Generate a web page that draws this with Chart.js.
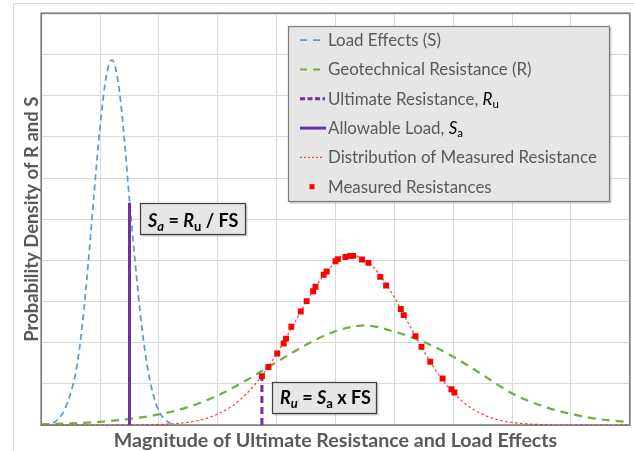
<!DOCTYPE html>
<html>
<head>
<meta charset="utf-8">
<script src="https://cdn.jsdelivr.net/npm/chart.js@4.4.1/dist/chart.umd.min.js"></script>
<style>
  html, body { margin:0; padding:0; background:#fff; }
  #wrap { width:634px; height:451px; position:relative; }
</style>
</head>
<body>
<div id="wrap"><canvas id="chart"></canvas></div>
<script>
// ── DATA ──────────────────────────────────────────────────
// load effects (S)
const loadX = [0.2,0.3,0.4,0.5,0.6,0.7,0.8,0.9,1.0,1.1,1.2,1.3,1.4,1.5,1.6,1.7,1.8,1.9,2.0,2.1,2.2];
const loadY = [0.05,0.16,0.38,0.78,1.38,2.45,3.95,5.65,7.25,8.42,8.87,8.40,7.15,5.45,3.90,2.50,1.45,0.76,0.34,0.14,0.04];

// geotechnical resistance (R)
const resX = [0,0.5,1,1.5,2,2.5,3,3.5,4,4.5,5,5.5,6,6.5,7,7.5,8,8.5,9,9.5,10];
const resY = [0.02,0.04,0.08,0.15,0.26,0.44,0.72,1.10,1.53,1.95,2.28,2.42,2.27,2.02,1.66,1.22,0.77,0.47,0.27,0.14,0.07];

// distribution of measured resistance
const fitX = [0,0.5,1,1.5,2,2.5,2.75,3,3.25,3.5,3.75,4,4.25,4.5,4.75,5,5.25,5.5,5.75,6,6.25,6.5,6.75,7,7.25,7.5,7.75,8,8.5,9,9.5,10];
const fitY = [0,0,0,0.002,0.015,0.07,0.14,0.27,0.47,0.78,1.20,1.73,2.35,2.98,3.54,3.94,4.11,4.02,3.65,3.10,2.44,1.80,1.23,0.79,0.47,0.26,0.13,0.065,0.012,0,0,0];

// measured resistances (points)
const measX = [3.75,3.86,4.01,4.12,4.16,4.25,4.41,4.51,4.62,4.66,4.80,4.85,5.00,5.04,5.17,5.25,5.30,5.45,5.56,5.76,5.86,6.11,6.16,6.36,6.46,6.61,6.82,6.97,7.02];
const measY = [1.19,1.41,1.74,1.98,2.10,2.39,2.76,3.01,3.25,3.36,3.65,3.73,3.98,4.03,4.08,4.11,4.11,4.02,3.94,3.60,3.39,2.82,2.67,2.16,1.90,1.54,1.13,0.87,0.79];

// vertical markers: allowable load Sa, ultimate resistance Ru
const saX = [1.5, 1.5],   saY = [0, 5.4];
const ruX = [3.75, 3.75], ruY = [0, 1.3];

// ── STYLE ─────────────────────────────────────────────────
const BLUE = '#5b9bd5', GREEN = '#70ad47', PURPLE = '#7030a0', RED = '#ff0000';
const TXT = '#595959';
const FONT = 'Lato';

const pts = (xs, ys) => xs.map((x, i) => ({ x, y: ys[i] }));

// ── PLUGINS ───────────────────────────────────────────────
const framePlugin = {
  id: 'frame',
  beforeDraw(chart) {
    const c = chart.ctx;
    c.save();
    c.fillStyle = '#fff';
    c.fillRect(0, 0, chart.width, chart.height);
    c.strokeStyle = '#d9d9d9'; c.lineWidth = 1;
    c.beginPath();
    c.moveTo(13.5, chart.height); c.lineTo(13.5, 3.5); c.lineTo(chart.width, 3.5);
    c.stroke();
    c.restore();
  },
  beforeDatasetsDraw(chart) {
    const { left, top, right, bottom } = chart.chartArea;
    const c = chart.ctx;
    c.save();
    c.strokeStyle = '#7f7f7f'; c.lineWidth = 1.75;
    c.strokeRect(left, top, right - left, bottom - top);
    c.restore();
  }
};

function rich(c, x, y, parts) {
  parts.forEach(p => {
    c.font = p.f; c.fillStyle = p.c || '#000';
    c.fillText(p.t, x, y + (p.dy || 0));
    x += c.measureText(p.t).width;
  });
  return x;
}

function box(c, x, y, w, h, border) {
  c.fillStyle = 'rgba(0,0,0,0.18)';
  c.fillRect(x + 1.5, y + 1.5, w, h);
  c.fillStyle = '#e6e6e6';
  c.fillRect(x, y, w, h);
  c.strokeStyle = border; c.lineWidth = 1.25;
  c.strokeRect(x + 0.5, y + 0.5, w - 1, h - 1);
}

function sample(c, y, color, width, dash, x0, x1) {
  c.save();
  c.strokeStyle = color; c.lineWidth = width; c.setLineDash(dash);
  c.beginPath(); c.moveTo(x0, y); c.lineTo(x1, y); c.stroke();
  c.restore();
}

const overlayPlugin = {
  id: 'overlay',
  afterDraw(chart) {
    const c = chart.ctx;
    c.save();
    c.textBaseline = 'alphabetic';

    // legend
    box(c, 288, 26, 322, 176, '#7f7f7f');
    const reg = `16.9px ${FONT}`, ital = `italic 16.9px ${FONT}`, sub = `11.5px ${FONT}`;
    const tx = 328, base = 46, step = 29.3;
    const rows = [
      [{ t:'Load Effects (S)', f:reg, c:TXT }],
      [{ t:'Geotechnical Resistance (R)', f:reg, c:TXT }],
      [{ t:'Ultimate Resistance, ', f:reg, c:TXT }, { t:'R', f:ital, c:'#000' }, { t:'u', f:sub, c:'#000', dy:3.5 }],
      [{ t:'Allowable Load, ', f:reg, c:TXT }, { t:'S', f:ital, c:'#000' }, { t:'a', f:sub, c:'#000', dy:3.5 }],
      [{ t:'Distribution of Measured Resistance', f:reg, c:TXT }],
      [{ t:'Measured Resistances', f:reg, c:TXT }]
    ];
    rows.forEach((r, i) => rich(c, tx, base + i * step, r));
    const my = i => base + i * step - 5.8;
    sample(c, my(0), BLUE, 1.75, [7, 6], 300, 322);
    sample(c, my(1), GREEN, 2, [7, 6], 300, 322);
    sample(c, my(2), PURPLE, 3, [5, 2.5], 300, 325);
    sample(c, my(3), PURPLE, 3, [], 300, 326);
    sample(c, my(4), 'rgba(255,0,0,0.7)', 1.25, [2, 2], 300, 324);
    c.fillStyle = RED; c.fillRect(309.5, my(5) - 2.5, 5, 5);

    // annotation boxes
    const b = `bold 18px ${FONT}`, bi = `italic bold 18px ${FONT}`;
    const sb = `bold 13px ${FONT}`, sbi = `italic bold 13px ${FONT}`;
    box(c, 140, 203, 106, 32, '#404040');
    rich(c, 148, 226.7, [
      { t:'S', f:bi }, { t:'a', f:sbi, dy:4 }, { t:' = ', f:b }, { t:'R', f:bi },
      { t:'u', f:sb, dy:4 }, { t:' / FS', f:b }
    ]);
    box(c, 272, 382, 105, 32, '#404040');
    rich(c, 280, 404.3, [
      { t:'R', f:bi }, { t:'u', f:sbi, dy:4 }, { t:' = ', f:b }, { t:'S', f:bi },
      { t:'a', f:sb, dy:4 }, { t:' x FS', f:b }
    ]);
    c.restore();
  }
};

// ── CHART ─────────────────────────────────────────────────
new Chart(document.getElementById('chart').getContext('2d'), {
  type: 'scatter',
  data: { datasets: [
    { label:'Measured Resistances', data:pts(measX, measY), pointStyle:'rect', pointRadius:4.2,
      backgroundColor:RED, borderColor:RED, borderWidth:0, showLine:false },
    { label:'Allowable Load, Sa', data:pts(saX, saY), showLine:true, borderColor:PURPLE, borderWidth:3, pointRadius:0 },
    { label:'Ultimate Resistance, Ru', data:pts(ruX, ruY), showLine:true, borderColor:PURPLE, borderWidth:3,
      borderDash:[7,4], pointRadius:0 },
    { label:'Distribution of Measured Resistance', data:pts(fitX, fitY), showLine:true, borderColor:'rgba(255,0,0,0.75)',
      borderWidth:1.25, borderDash:[2.5,2.5], pointRadius:0, cubicInterpolationMode:'monotone' },
    { label:'Geotechnical Resistance (R)', data:pts(resX, resY), showLine:true, borderColor:GREEN,
      borderWidth:2.25, borderDash:[8,6], pointRadius:0, cubicInterpolationMode:'monotone' },
    { label:'Load Effects (S)', data:pts(loadX, loadY), showLine:true, borderColor:BLUE,
      borderWidth:1.75, borderDash:[6,4], pointRadius:0, cubicInterpolationMode:'monotone' }
  ]},
  options: {
    responsive: true, maintainAspectRatio: false, animation: false,
    layout: { padding: { left:22.3, top:13.3, right:2.3, bottom:0.3 } },
    plugins: { legend:{ display:false }, tooltip:{ enabled:false } },
    scales: {
      x: { type:'linear', min:0, max:10, ticks:{ display:false, stepSize:1 },
           grid:{ color:'#d9d9d9', drawTicks:false }, border:{ display:false },
           title:{ display:true, text:'Magnitude of Ultimate Resistance and Load Effects', color:TXT,
                   font:{ family:FONT, size:19.6, weight:'bold', lineHeight:1 }, padding:{ top:6, bottom:0 } } },
      y: { type:'linear', min:0, max:10, ticks:{ display:false, stepSize:1 },
           grid:{ color:'#d9d9d9', drawTicks:false }, border:{ display:false },
           title:{ display:true, text:'Probability Density of R and S', color:TXT,
                   font:{ family:FONT, size:18.5, weight:'bold', lineHeight:1 }, padding:{ top:0, bottom:0.4 } } }
    }
  },
  plugins: [framePlugin, overlayPlugin]
});
</script>
</body>
</html>
